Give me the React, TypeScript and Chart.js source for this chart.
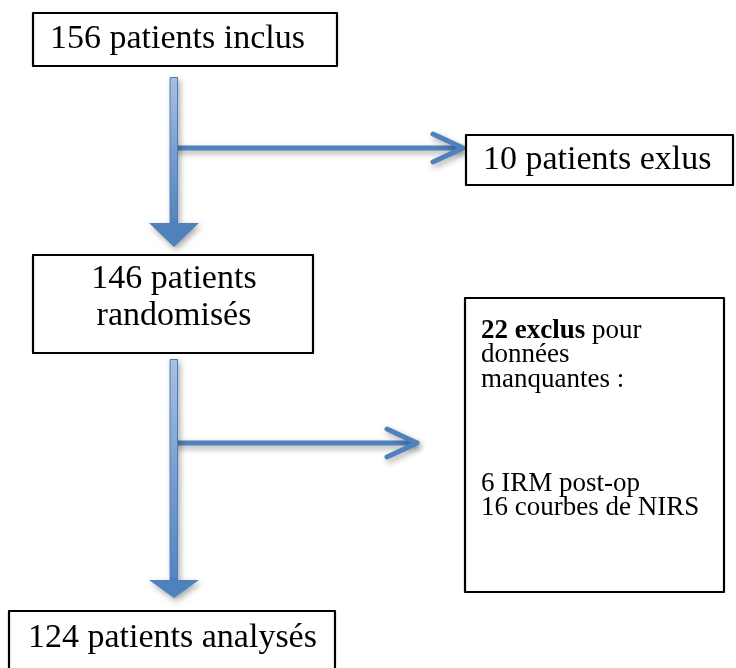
import React, { useEffect, useRef } from "react";
import { Chart, registerables } from "chart.js";
Chart.register(...registerables);

// ---- content (values) ----
const stepCounts = [156, 146, 124];
const stepLabels = ["patients inclus", "patients randomisés", "patients analysés"];
const excludedCounts = [10, 22];
const excludedLabels = ["patients exlus", "exclus"];
const missingCounts = [6, 16];
const missingLabels = ["IRM post-op", "courbes de NIRS"];

// ---- layout in data units of the hidden linear scales (x: 0..736, y: 0..668 top-down) ----
const boxLeft = [33, 466, 33, 465, 9];
const boxTop = [13, 135, 255, 298, 611];
const boxRight = [337, 733, 313, 724, 335];
const boxBottom = [66, 185, 353, 592, 690];

const downShaftX = [174, 174];
const downShaftTop = [77, 359];
const downHeadTop = [223, 580];
const downHeadTip = [247, 598];
const sideArrowY = [148, 443];
const sideArrowTip = [463, 417];

type Part = { t: string; bold?: boolean };
type Line = { x: number; y: number; size: number; align: CanvasTextAlign; parts: Part[] };

const textLines: Line[] = [
  { x: 50, y: 48, size: 34, align: "left", parts: [{ t: `${stepCounts[0]} ${stepLabels[0]}` }] },
  { x: 483, y: 169, size: 34, align: "left", parts: [{ t: `${excludedCounts[0]} ${excludedLabels[0]}` }] },
  { x: 174, y: 288, size: 34, align: "center", parts: [{ t: `${stepCounts[1]} patients` }] },
  { x: 174, y: 325, size: 34, align: "center", parts: [{ t: stepLabels[1].replace("patients ", "") }] },
  { x: 481, y: 338, size: 27, align: "left", parts: [{ t: `${excludedCounts[1]} ${excludedLabels[1]}`, bold: true }, { t: " pour" }] },
  { x: 481, y: 362, size: 27, align: "left", parts: [{ t: "données" }] },
  { x: 481, y: 387, size: 27, align: "left", parts: [{ t: "manquantes :" }] },
  { x: 481, y: 491, size: 27, align: "left", parts: [{ t: `${missingCounts[0]} ${missingLabels[0]}` }] },
  { x: 481, y: 515, size: 27, align: "left", parts: [{ t: `${missingCounts[1]} ${missingLabels[1]}` }] },
  { x: 28, y: 647, size: 34, align: "left", parts: [{ t: `${stepCounts[2]} ${stepLabels[2]}` }] },
];

const BLUE = "#4f81bd";
const FONT = "'Liberation Serif', 'Times New Roman', serif";

const flowPlugin = {
  id: "flow",
  afterDatasetsDraw(chart: any) {
    const ctx: CanvasRenderingContext2D = chart.ctx;
    const sx = chart.scales.x;
    const sy = chart.scales.y;
    const X = (v: number) => sx.getPixelForValue(v);
    const Y = (v: number) => sy.getPixelForValue(v);

    ctx.save();
    // arrows with shadow
    const setShadow = () => {
      ctx.shadowColor = "rgba(0,0,0,0.35)";
      ctx.shadowBlur = 6;
      ctx.shadowOffsetX = 2;
      ctx.shadowOffsetY = 3;
    };
    for (let i = 0; i < downShaftX.length; i++) {
      const cx = X(downShaftX[i]);
      const top = Y(downShaftTop[i]);
      const ht = Y(downHeadTop[i]);
      const tip = Y(downHeadTip[i]);
      // side arrow
      setShadow();
      ctx.strokeStyle = BLUE;
      ctx.lineWidth = 5;
      ctx.lineCap = "round";
      ctx.lineJoin = "round";
      const ay = Y(sideArrowY[i]);
      const tx = X(sideArrowTip[i]);
      ctx.beginPath();
      ctx.moveTo(cx, ay);
      ctx.lineTo(tx - 2, ay);
      ctx.stroke();
      ctx.beginPath();
      ctx.moveTo(tx - 30, ay - 14);
      ctx.lineTo(tx, ay);
      ctx.lineTo(tx - 30, ay + 14);
      ctx.stroke();
      // shaft
      const hw = 4;
      const g = ctx.createLinearGradient(0, top, 0, ht);
      g.addColorStop(0, "#a9c1e1");
      g.addColorStop(0.5, "#7c9fcf");
      g.addColorStop(1, "#5584c0");
      ctx.fillStyle = g;
      ctx.beginPath();
      ctx.rect(cx - hw, top, hw * 2, ht - top);
      ctx.fill();
      ctx.shadowColor = "transparent";
      ctx.lineWidth = 1;
      ctx.strokeStyle = "#4a7ebb";
      ctx.strokeRect(cx - hw + 0.5, top + 0.5, hw * 2 - 1, ht - top);
      // head
      setShadow();
      ctx.fillStyle = BLUE;
      ctx.beginPath();
      ctx.moveTo(cx - 25, ht);
      ctx.lineTo(cx + 25, ht);
      ctx.lineTo(cx, tip);
      ctx.closePath();
      ctx.fill();
    }
    ctx.shadowColor = "transparent";
    ctx.shadowBlur = 0;
    ctx.shadowOffsetX = 0;
    ctx.shadowOffsetY = 0;

    // boxes
    ctx.strokeStyle = "#000";
    ctx.lineWidth = 2.2;
    for (let i = 0; i < boxLeft.length; i++) {
      ctx.fillStyle = "#fff";
      const x0 = X(boxLeft[i]), y0 = Y(boxTop[i]), x1 = X(boxRight[i]), y1 = Y(boxBottom[i]);
      ctx.fillRect(x0, y0, x1 - x0, y1 - y0);
      ctx.strokeRect(x0, y0, x1 - x0, y1 - y0);
    }

    // text
    ctx.fillStyle = "#000";
    ctx.textBaseline = "alphabetic";
    for (const ln of textLines) {
      const widths = ln.parts.map((p) => {
        ctx.font = `${p.bold ? "bold " : ""}${ln.size}px ${FONT}`;
        return ctx.measureText(p.t).width;
      });
      const total = widths.reduce((a, b) => a + b, 0);
      let x = X(ln.x);
      if (ln.align === "center") x -= total / 2;
      ctx.textAlign = "left";
      ln.parts.forEach((p, k) => {
        ctx.font = `${p.bold ? "bold " : ""}${ln.size}px ${FONT}`;
        ctx.fillText(p.t, x, Y(ln.y));
        x += widths[k];
      });
    }
    ctx.restore();
  },
};

export default function App() {
  const ref = useRef<HTMLCanvasElement | null>(null);
  useEffect(() => {
    if (!ref.current) return;
    const chart = new Chart(ref.current, {
      type: "scatter",
      data: { datasets: [{ data: [], pointRadius: 0 }] },
      options: {
        responsive: false,
        animation: false,
        events: [],
        layout: { padding: 0 },
        plugins: { legend: { display: false }, tooltip: { enabled: false } },
        scales: {
          x: { type: "linear", min: 0, max: 736, display: false },
          y: { type: "linear", min: 0, max: 668, reverse: true, display: false },
        },
      },
      plugins: [flowPlugin],
    });
    return () => chart.destroy();
  }, []);
  return (
    <div style={{ position: "fixed", left: 0, top: 0, width: 736, height: 668, background: "#fff" }}>
      <canvas ref={ref} width={736} height={668} style={{ display: "block" }} />
    </div>
  );
}
